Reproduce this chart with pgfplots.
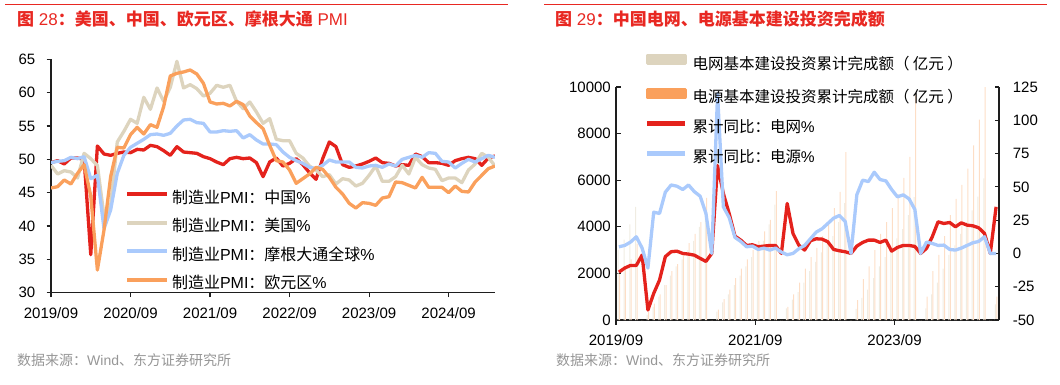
\documentclass[border=0pt]{standalone}
\usepackage{fontspec}
\setmainfont{Liberation Sans}
\newfontfamily\cjk{Noto Sans CJK SC}
\usepackage{pgfplots}
\usepackage{pgfplotstable}
\pgfplotsset{compat=1.18}
\definecolor{cred}{RGB}{228,34,28}
\definecolor{cbeige}{RGB}{221,212,190}
\definecolor{cblue}{RGB}{170,202,252}
\definecolor{corange}{RGB}{250,160,92}
\definecolor{ctitle}{RGB}{232,40,34}
\definecolor{cgray}{RGB}{150,150,150}
\definecolor{caxis}{RGB}{30,30,30}
\newcommand\zh[1]{{\cjk #1}}

% PMI, index k = months from axis start
\pgfplotstableread{
cn us gl eu
49.5 49.1 49.5 45.7
49.8 47.8 49.7 45.9
49.3 48.3 49.8 46.9
50.2 48.1 50.3 46.3
50.2 47.2 50.1 47.9
50.0 50.9 50.4 49.2
35.7 50.1 47.1 44.5
52.0 49.1 47.6 33.4
50.8 41.5 39.6 39.4
50.6 43.1 42.4 47.4
50.9 52.6 47.9 51.8
51.1 54.2 50.6 51.7
51.0 56.0 51.8 53.7
51.5 55.4 52.4 54.8
51.4 59.3 53.0 53.8
52.1 57.5 53.7 55.2
51.9 60.7 53.8 54.8
51.3 58.7 53.6 57.9
50.6 60.8 53.9 62.5
51.9 64.7 55.0 62.9
51.1 60.7 55.9 63.1
51.0 61.2 56.0 63.4
50.9 60.6 55.5 62.8
50.4 59.5 55.4 61.4
50.1 59.9 54.1 58.6
49.6 61.1 54.1 58.3
49.2 60.8 54.3 58.4
50.1 61.1 54.2 58.0
50.3 58.7 54.3 58.7
50.1 57.6 53.2 58.2
50.2 58.6 53.7 56.5
49.5 57.1 52.9 55.5
47.4 55.4 52.3 54.6
49.6 56.1 52.3 52.1
50.2 53.0 52.2 49.8
49.0 52.8 51.1 49.6
49.4 52.8 50.3 48.4
50.1 50.9 49.8 46.4
49.2 50.2 49.4 47.1
48.0 49.0 48.8 47.8
47.0 48.4 48.6 48.8
50.1 47.4 49.1 48.5
52.6 47.7 49.9 47.3
51.9 46.3 49.6 45.8
49.2 47.1 49.6 44.8
48.8 46.9 49.6 43.4
49.0 46.0 48.8 42.7
49.3 46.4 48.7 43.5
49.7 47.6 49.0 43.4
50.2 49.0 49.1 43.1
49.5 46.7 48.8 44.2
49.4 46.7 49.3 44.4
49.0 47.4 49.0 46.6
49.2 49.1 50.0 46.5
49.1 47.8 50.3 46.1
50.8 50.3 50.6 45.7
50.4 49.2 50.3 47.3
49.5 48.7 51.0 45.8
49.5 48.5 50.9 45.8
49.4 46.8 49.7 45.8
49.1 47.2 49.6 45.0
49.8 47.2 48.7 46.0
50.1 46.5 49.4 45.2
50.3 48.4 50.0 45.1
50.1 49.3 49.6 46.6
49.1 50.9 50.1 47.6
50.2 50.3 50.6 48.6
50.5 49.0 50.3 49.0
}\pmidata

% grid / power source investment, months from 2019/09
\pgfplotstableread{
m grid src ry by
0 3000 1967 -14 5
1 3450 2200 -11 6
2 4100 2600 -9 8.5
3 4856 3283 -9 12.5
4 0 0 -1.2 4
5 220 370 -42.5 -11
6 568 700 -30 31
7 1000 1100 -20 30
8 1500 1500 -2.4 46
9 1900 2100 1.3 51.4
10 2300 2400 1.7 50.5
11 2600 2800 0 48
12 3000 3300 -0.5 51.4
13 3400 3700 -1.3 46.4
14 4000 4200 -3.7 43
15 4699 5244 -6 30
16 0 0 0 0
17 360 450 66 120
18 760 900 45 35
19 1100 1300 30 27
20 1500 1800 13 12
21 1900 2200 10 9
22 2300 2600 6 5
23 2700 3000 6.5 5.5
24 3000 3400 5 3
25 3400 3800 5.5 4
26 4100 4300 6 2.5
27 4951 5530 6 4
28 0 0 0 1
29 500 560 37.5 -1
30 870 1100 15 0
31 1200 1600 6.25 3.5
32 1600 2200 2.5 6
33 2100 2700 9.5 11
34 2500 3100 11 16
35 2900 3600 10.75 18.5
36 3300 4200 8.75 22.5
37 3600 4800 3 26.5
38 4200 5500 2 28.5
39 5012 7208 1.25 24
40 0 0 0 0
41 480 850 5.5 44
42 950 1750 8.25 55
43 1300 2300 10 54
44 1800 3000 10 61
45 2300 3700 8.25 55.5
46 2700 4200 10 54.5
47 3000 4800 1.75 48
48 3500 5400 4.5 42.5
49 3900 6100 6 44
50 4500 7000 6 41
51 5275 9675 5.25 33
52 0 0 0 0
53 500 1000 3.75 8.5
54 1100 2100 12.5 7.5
55 1600 2800 23.75 6
56 2200 3600 22.5 6.25
57 2800 4500 23.25 3
58 3200 5200 20 2.5
59 3700 5800 23 4
60 4200 6500 21.25 6
61 4700 7500 20.75 8
62 5300 8603 19.25 9
63 6083 11687 15 12.5
64 0 0 0 0
65 670 1000 35 0
}\rdata

\begin{document}
\begin{tikzpicture}[x=1pt,y=1pt]
\path[use as bounding box] (0,0) rectangle (1060,384);
\draw[ctitle, line width=1pt] (5,379) -- (508,379);
\draw[ctitle, line width=1pt] (544,379) -- (1047,379);
\node[anchor=west, inner sep=0pt, text=ctitle, font=\fontsize{17}{17}\selectfont] at (17,365)
  {\zh{\bfseries 图} 28\zh{\bfseries ：美国、中国、欧元区、摩根大通} PMI};
\node[anchor=west, inner sep=0pt, text=ctitle, font=\fontsize{17}{17}\selectfont] at (555,365)
  {\zh{\bfseries 图} 29\zh{\bfseries ：中国电网、电源基本建设投资完成额}};
\node[anchor=west, inner sep=0pt, text=cgray, font=\fontsize{14}{14}\selectfont] at (17,24)
  {\zh{数据来源：}Wind\zh{、东方证券研究所}};
\node[anchor=west, inner sep=0pt, text=cgray, font=\fontsize{14}{14}\selectfont] at (556,24)
  {\zh{数据来源：}Wind\zh{、东方证券研究所}};

% ---------- left panel ----------
\begin{axis}[
  at={(51pt,91.3pt)}, anchor=south west, scale only axis,
  width=444pt, height=233.4pt,
  xmin=0, xmax=67, ymin=30, ymax=65,
  axis x line*=bottom, axis y line*=left,
  axis line style={-, caxis, line width=1.2pt},
  xtick={0,12,24,36,48,60},
  xticklabels={2019/09,2020/09,2021/09,2022/09,2023/09,2024/09},
  ytick={30,35,...,65},
  tick align=outside, major tick length=4.5pt,
  tick style={caxis, line width=1.1pt},
  /pgf/number format/assume math mode=true,
  tick label style={font=\fontsize{15}{15}\selectfont, inner sep=0pt},
  yticklabel style={anchor=east, xshift=-11pt},
  xticklabel style={anchor=north, yshift=-10pt},
  legend cell align=left,
  legend style={draw=none, fill=none, at={(0.1667,0.43)}, anchor=north west,
    inner sep=0pt, outer sep=0pt, font=\fontsize{16}{16}\selectfont,
    row sep=14.5pt, nodes={inner sep=0pt, text height=11pt, text depth=3pt},
    /tikz/every odd column/.append style={column sep=3pt}},
  legend image code/.code={\draw[#1, line width=4pt, line cap=butt] (0pt,5pt) -- (40pt,5pt);},
  every axis plot/.append style={line width=3.3pt, line join=round, no markers},
]
\addplot[cred] table[x expr=\coordindex, y=cn]{\pmidata};
\addlegendentry{\zh{制造业}PMI\zh{：中国}\%}
\addplot[cbeige] table[x expr=\coordindex, y=us]{\pmidata};
\addlegendentry{\zh{制造业}PMI\zh{：美国}\%}
\addplot[cblue] table[x expr=\coordindex, y=gl]{\pmidata};
\addlegendentry{\zh{制造业}PMI\zh{：摩根大通全球}\%}
\addplot[corange] table[x expr=\coordindex, y=eu]{\pmidata};
\addlegendentry{\zh{制造业}PMI\zh{：欧元区}\%}
\end{axis}

% ---------- right panel: bars ----------
\begin{axis}[
  at={(616pt,64pt)}, anchor=south west, scale only axis,
  width=383pt, height=233pt,
  xmin=-0.5, xmax=65.5, ymin=0, ymax=10000,
  axis x line*=bottom, axis y line*=left,
  axis line style={-, caxis, line width=1.2pt},
  xtick={-0.5,23.5,47.5},
  xticklabels={2019/09,2021/09,2023/09},
  ytick={0,2000,...,10000},
  scaled y ticks=false,
  yticklabel style={/pgf/number format/1000 sep={}, anchor=east, xshift=-5pt},
  tick align=inside, major tick length=4.5pt,
  tick style={caxis, line width=1.1pt},
  /pgf/number format/assume math mode=true,
  tick label style={font=\fontsize{15}{15}\selectfont, inner sep=0pt},
  xticklabel style={anchor=north, yshift=-10pt},
  ybar=0.4pt, bar width=1pt,
]
\addplot[draw=none, fill=cbeige!45] table[x=m, y=grid]{\rdata};
\addplot[draw=none, fill=corange!35] table[x=m, y=src]{\rdata};
\end{axis}

% ---------- right panel: lines ----------
\begin{axis}[
  at={(616pt,64pt)}, anchor=south west, scale only axis,
  width=383pt, height=233pt,
  xmin=-0.5, xmax=65.5, ymin=-50, ymax=125,
  axis x line=none, axis y line*=right,
  axis line style={-, caxis, line width=1.2pt},
  ytick={-50,-25,...,125},
  tick align=inside, major tick length=4.5pt,
  tick style={caxis, line width=1.1pt},
  /pgf/number format/assume math mode=true,
  tick label style={font=\fontsize{15}{15}\selectfont, inner sep=0pt},
  yticklabel style={anchor=west, xshift=13.7pt},
  legend cell align=left,
  legend style={draw=none, fill=none, at={(0.0757,1.14)}, anchor=north west,
    inner sep=0pt, outer sep=0pt, font=\fontsize{15.5}{15.5}\selectfont,
    row sep=15.7pt, nodes={inner sep=0pt, text height=11pt, text depth=3pt},
    /tikz/every odd column/.append style={column sep=5pt}},
  legend image code/.code={\draw[#1, line width=4.5pt, line cap=butt] (0pt,5.2pt) -- (38pt,5.2pt);},
  every axis plot/.append style={line width=3.3pt, line join=round, no markers},
]
\addlegendimage{legend image code/.code={\fill[cbeige] (0pt,1.5pt) rectangle (38pt,9pt);}}
\addlegendentry{\zh{电网基本建设投资累计完成额（ 亿元 ）}}
\addlegendimage{legend image code/.code={\fill[corange] (0pt,1.5pt) rectangle (38pt,9pt);}}
\addlegendentry{\zh{电源基本建设投资累计完成额（ 亿元 ）}}
\addplot[cred] table[x=m, y=ry]{\rdata};
\addlegendentry{\zh{累计同比：电网}\%}
\addplot[cblue] table[x=m, y=by]{\rdata};
\addlegendentry{\zh{累计同比：电源}\%}
\end{axis}
\end{tikzpicture}
\end{document}
